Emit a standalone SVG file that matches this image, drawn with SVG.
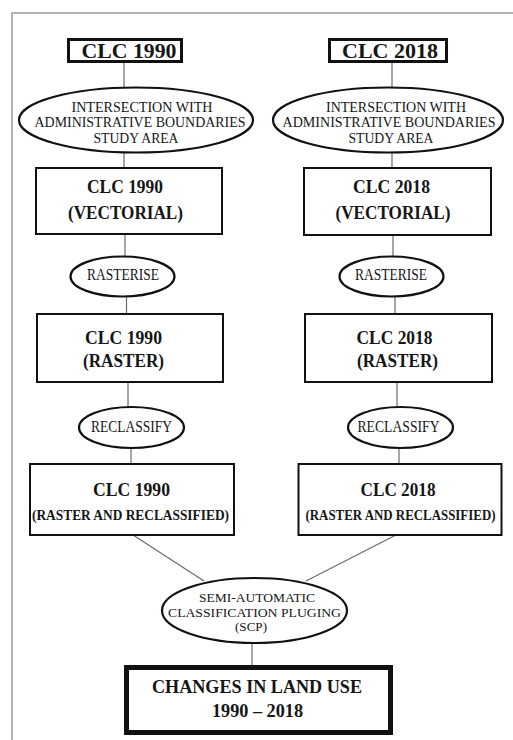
<svg xmlns="http://www.w3.org/2000/svg" width="513" height="740" viewBox="0 0 513 740">
<style>
.frame{fill:none;stroke:#9a9a9a;stroke-width:1.5}
.conn line{stroke:#6a6a6a;stroke-width:1.2}
.box{fill:#fff;stroke:#111;stroke-width:2}
.tbox{fill:#fff;stroke:#111;stroke-width:3}
.fbox{fill:#fff;stroke:#111;stroke-width:5}
.ell{fill:#fff;stroke:#111;stroke-width:2.2}
text{font-family:"Liberation Serif","Times New Roman",serif;fill:#161616;text-anchor:middle}
.b{font-weight:bold}
.t{font-size:14px}
</style>
<rect width="513" height="740" fill="#fff"/>
<path class="frame" d="M12,740 V13 H513"/>
<g id="connectors" class="conn">
<line x1="124" y1="62" x2="124" y2="88"/>
<line x1="392" y1="63" x2="392" y2="88"/>
<line x1="124" y1="153" x2="124" y2="168"/>
<line x1="392" y1="153" x2="392" y2="168"/>
<line x1="125" y1="234" x2="125" y2="257"/>
<line x1="393" y1="235" x2="393" y2="257"/>
<line x1="126.5" y1="296" x2="126.5" y2="314"/>
<line x1="395" y1="296" x2="395" y2="314"/>
<line x1="128" y1="382" x2="128" y2="407"/>
<line x1="397" y1="382" x2="397" y2="407"/>
<line x1="131" y1="448" x2="131" y2="464"/>
<line x1="399" y1="448" x2="399" y2="464"/>
<line x1="133" y1="535" x2="204" y2="581"/>
<line x1="396" y1="535" x2="306" y2="581"/>
<line x1="252" y1="643" x2="252" y2="667"/>
</g>
<g id="clc1990">
<rect class="tbox" x="68.5" y="39.5" width="113" height="22"/>
<text class="b" x="129" y="57.5" font-size="21.5" textLength="95" lengthAdjust="spacingAndGlyphs">CLC 1990</text>
</g>
<g id="clc2018">
<rect class="tbox" x="329.5" y="39.5" width="117" height="22"/>
<text class="b" x="390" y="57.5" font-size="21.5" textLength="96" lengthAdjust="spacingAndGlyphs">CLC 2018</text>
</g>
<g id="intersect1990">
<ellipse class="ell" cx="136" cy="120" rx="117" ry="32.5"/>
<text class="t" x="142" y="111.5" textLength="141" lengthAdjust="spacingAndGlyphs">INTERSECTION WITH</text>
<text class="t" x="140" y="127" textLength="211" lengthAdjust="spacingAndGlyphs">ADMINISTRATIVE BOUNDARIES</text>
<text class="t" x="136" y="142.5" textLength="85" lengthAdjust="spacingAndGlyphs">STUDY AREA</text>
</g>
<g id="intersect2018">
<ellipse class="ell" cx="388" cy="120" rx="115" ry="32.5"/>
<text class="t" x="396" y="111.5" textLength="140" lengthAdjust="spacingAndGlyphs">INTERSECTION WITH</text>
<text class="t" x="389" y="127" textLength="213" lengthAdjust="spacingAndGlyphs">ADMINISTRATIVE BOUNDARIES</text>
<text class="t" x="391" y="142.5" textLength="85" lengthAdjust="spacingAndGlyphs">STUDY AREA</text>
</g>
<g id="vect1990">
<rect class="box" x="36" y="168" width="186" height="66"/>
<text class="b" x="125" y="193" font-size="18" textLength="76" lengthAdjust="spacingAndGlyphs">CLC 1990</text>
<text class="b" x="125.5" y="219" font-size="18" textLength="115" lengthAdjust="spacingAndGlyphs">(VECTORIAL)</text>
</g>
<g id="vect2018">
<rect class="box" x="304" y="168" width="187" height="67"/>
<text class="b" x="391.5" y="193" font-size="18" textLength="77" lengthAdjust="spacingAndGlyphs">CLC 2018</text>
<text class="b" x="393" y="219" font-size="18" textLength="115" lengthAdjust="spacingAndGlyphs">(VECTORIAL)</text>
</g>
<g id="rasterise1990">
<ellipse class="ell" cx="122.5" cy="276.5" rx="52" ry="20"/>
<text x="123" y="279.5" font-size="16" textLength="72" lengthAdjust="spacingAndGlyphs">RASTERISE</text>
</g>
<g id="rasterise2018">
<ellipse class="ell" cx="391.5" cy="276.5" rx="52" ry="20"/>
<text x="391" y="279.5" font-size="16" textLength="72" lengthAdjust="spacingAndGlyphs">RASTERISE</text>
</g>
<g id="raster1990">
<rect class="box" x="37" y="314" width="186" height="68"/>
<text class="b" x="123.5" y="343.5" font-size="18" textLength="77" lengthAdjust="spacingAndGlyphs">CLC 1990</text>
<text class="b" x="123.5" y="367" font-size="18" textLength="81" lengthAdjust="spacingAndGlyphs">(RASTER)</text>
</g>
<g id="raster2018">
<rect class="box" x="305" y="314" width="187" height="68"/>
<text class="b" x="394.5" y="343.5" font-size="18" textLength="76" lengthAdjust="spacingAndGlyphs">CLC 2018</text>
<text class="b" x="397.5" y="367" font-size="18" textLength="81" lengthAdjust="spacingAndGlyphs">(RASTER)</text>
</g>
<g id="reclassify1990">
<ellipse class="ell" cx="131.5" cy="427.5" rx="52.5" ry="20.5"/>
<text x="131.5" y="432" font-size="16" textLength="81" lengthAdjust="spacingAndGlyphs">RECLASSIFY</text>
</g>
<g id="reclassify2018">
<ellipse class="ell" cx="400.5" cy="427.5" rx="52.5" ry="20.5"/>
<text x="398.5" y="432" font-size="16" textLength="82" lengthAdjust="spacingAndGlyphs">RECLASSIFY</text>
</g>
<g id="rr1990">
<rect class="box" x="30" y="464" width="204" height="71"/>
<text class="b" x="131.5" y="496" font-size="18" textLength="77" lengthAdjust="spacingAndGlyphs">CLC 1990</text>
<text class="b" x="130.5" y="519.5" font-size="14" textLength="197" lengthAdjust="spacingAndGlyphs">(RASTER AND RECLASSIFIED)</text>
</g>
<g id="rr2018">
<rect class="box" x="298.5" y="464" width="203" height="71"/>
<text class="b" x="398" y="496" font-size="18" textLength="75" lengthAdjust="spacingAndGlyphs">CLC 2018</text>
<text class="b" x="400.5" y="519.5" font-size="14" textLength="190" lengthAdjust="spacingAndGlyphs">(RASTER AND RECLASSIFIED)</text>
</g>
<g id="scp">
<ellipse class="ell" cx="254.5" cy="610.5" rx="92.5" ry="32.5"/>
<text x="257" y="602" font-size="13" textLength="116" lengthAdjust="spacingAndGlyphs">SEMI-AUTOMATIC</text>
<text x="254.5" y="616.5" font-size="13" textLength="173" lengthAdjust="spacingAndGlyphs">CLASSIFICATION PLUGING</text>
<text x="251" y="631" font-size="13" textLength="32" lengthAdjust="spacingAndGlyphs">(SCP)</text>
</g>
<g id="changes">
<rect class="fbox" x="126.5" y="667.5" width="264" height="65"/>
<text class="b" x="257" y="693" font-size="19" textLength="210" lengthAdjust="spacingAndGlyphs">CHANGES IN LAND USE</text>
<text class="b" x="257.5" y="717" font-size="19" textLength="91" lengthAdjust="spacingAndGlyphs">1990 – 2018</text>
</g>
</svg>
